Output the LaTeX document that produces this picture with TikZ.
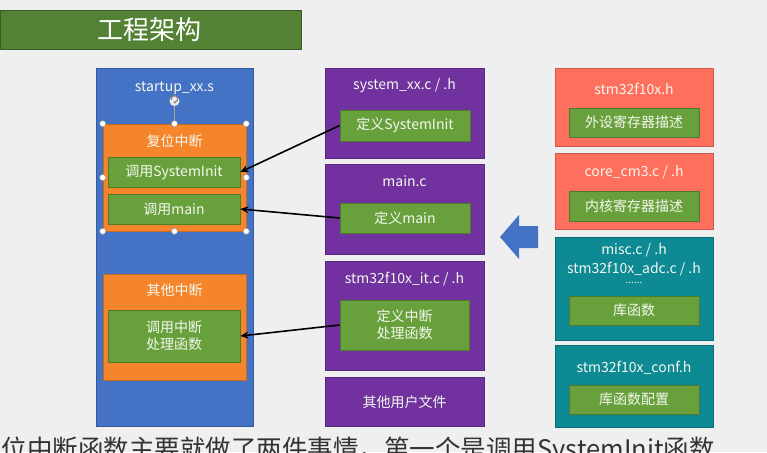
\documentclass[tikz,border=0pt]{standalone}
\usepackage{fontspec}
\setmainfont{Noto Sans CJK SC}
\usetikzlibrary{arrows.meta,shadows}
\definecolor{bgc}{HTML}{EFEFEF}
\definecolor{titleg}{HTML}{548235}
\definecolor{blu}{HTML}{4472C4}
\definecolor{org}{HTML}{F4852B}
\definecolor{grn}{HTML}{68A03C}
\definecolor{grnb}{HTML}{4E7A2C}
\definecolor{pur}{HTML}{7132A0}
\definecolor{sal}{HTML}{FF6F5D}
\definecolor{tea}{HTML}{0E8A94}
\definecolor{txtw}{HTML}{F4F8EE}
\tikzset{
  panel/.style={draw=#1!80!black, line width=0.6pt, fill=#1, inner sep=0pt},
  gbox/.style={draw=grnb, line width=0.8pt, fill=grn, inner sep=0pt, text=txtw, font=\fontsize{14}{17}\selectfont, align=center},
  ttl/.style={text=txtw, font=\fontsize{14}{17}\selectfont, inner sep=0pt, align=center},
  conn/.style={draw=black, line width=1.6pt, -{Stealth[length=8pt,width=7pt]}},
  handle/.style={circle, draw=gray!70, fill=white, line width=0.5pt, minimum size=6pt, inner sep=0pt},
}
\begin{document}
\begin{tikzpicture}[x=1pt,y=-1pt]
\useasboundingbox (0,0) rectangle (767,452);
\clip (0,0) rectangle (767,452);
\fill[bgc] (0,0) rectangle (767,452);
% title
\node[fill=titleg, draw=titleg!70!black, drop shadow={shadow xshift=1pt,shadow yshift=-1pt,opacity=0.3}, minimum width=301pt, minimum height=39pt, inner sep=0pt, anchor=north west] (title) at (0,10) {};
\node[text=white, font=\fontsize{26}{30}\selectfont, inner sep=0pt] (titletext) at (149,30) {工程架构};
% left column
\node[panel=blu, minimum width=157pt, minimum height=358pt] (startup) at (174.5,247) {};
\node[ttl] (startupt) at (174.5,88) {startup\_xx.s};
\node[panel=org, minimum width=143pt, minimum height=107pt] (reset) at (174.5,177.5) {};
\node[ttl] (resett) at (174.5,141) {复位中断};
\node[gbox, minimum width=132pt, minimum height=30pt] (callsys) at (174,172) {调用SystemInit};
\node[gbox, minimum width=132pt, minimum height=30pt] (callmain) at (174,209) {调用main};
\node[panel=org, minimum width=143pt, minimum height=106pt] (other) at (174.5,327) {};
\node[ttl] (othert) at (174.5,290) {其他中断};
\node[gbox, minimum width=132pt, minimum height=52pt] (callirq) at (174,336) {调用中断\\处理函数};
% selection handles
\coordinate (rot) at (174.5,101);
\draw[gray!70, line width=0.6pt] (rot) -- (reset.north);
\node[circle, fill=white!85!gray, minimum size=10pt, inner sep=0pt] (roth) at (rot) {};
\draw[gray!90, line width=1.3pt, -{Stealth[length=2.5pt,width=3.5pt]}] ([shift={(-3,-1)}]rot) arc[start angle=200, end angle=-110, radius=3.2pt];
\foreach \a/\n in {north west/h1, north/h2, north east/h3, west/h4, east/h5, south west/h6, south/h7, south east/h8}
  \node[handle] (\n) at (reset.\a) {};
% middle column
\node[panel=pur, minimum width=159pt, minimum height=90pt] (sysxx) at (404.5,113) {};
\node[ttl] (sysxxt) at (404.5,86) {system\_xx.c / .h};
\node[gbox, minimum width=130pt, minimum height=31pt] (defsys) at (405,125.5) {定义SystemInit};
\node[panel=pur, minimum width=159pt, minimum height=90pt] (mainc) at (404.5,209) {};
\node[ttl] (mainct) at (404.5,181) {main.c};
\node[gbox, minimum width=130pt, minimum height=30pt] (defmain) at (405,218) {定义main};
\node[panel=pur, minimum width=159pt, minimum height=109pt] (itc) at (404.5,315.5) {};
\node[ttl] (itct) at (404.5,279) {stm32f10x\_it.c / .h};
\node[gbox, minimum width=129pt, minimum height=50pt] (defirq) at (404.5,325) {定义中断\\处理函数};
\node[panel=pur, minimum width=159pt, minimum height=49pt] (userf) at (404.5,401.5) {};
\node[ttl] (userft) at (404.5,402) {其他用户文件};
% right column
\node[panel=sal, minimum width=158pt, minimum height=78pt] (f10xh) at (634,107) {};
\node[ttl] (f10xht) at (634,89) {stm32f10x.h};
\node[gbox, minimum width=130pt, minimum height=29pt] (periph) at (634,122.5) {外设寄存器描述};
\node[panel=sal, minimum width=158pt, minimum height=76pt] (corecm) at (634,191) {};
\node[ttl] (corecmt) at (634,172) {core\_cm3.c / .h};
\node[gbox, minimum width=130pt, minimum height=30pt] (corereg) at (634,206) {内核寄存器描述};
\node[panel=tea, minimum width=158pt, minimum height=103pt] (misc) at (634,288.5) {};
\node[ttl, font=\fontsize{14}{19}\selectfont] (misct) at (634,260) {misc.c / .h\\stm32f10x\_adc.c / .h};
\node[ttl, font=\fontsize{10}{10}\selectfont] (dots) at (634,283) {......};
\node[gbox, minimum width=130pt, minimum height=29pt] (lib) at (634,310.5) {库函数};
\node[panel=tea, minimum width=158pt, minimum height=82pt] (conf) at (634,386) {};
\node[ttl] (conft) at (634,368) {stm32f10x\_conf.h};
\node[gbox, minimum width=130pt, minimum height=29pt] (libconf) at (634,399.5) {库函数配置};
% big arrow
\fill[blu] (500,237) -- (519,215) -- (519,226) -- (538,226) -- (538,248) -- (519,248) -- (519,259) -- cycle;
% connectors
\draw[conn] (defsys.west) -- (callsys.east);
\draw[conn] (defmain.west) -- (callmain.east);
\draw[conn] (defirq.west) -- (callirq.east);
% subtitle (cut off at the bottom, as in the reference)
\node[anchor=north east, inner sep=0pt, text=black!80, font=\fontsize{25.5}{30}\selectfont] (sub) at (715,437) {位中断函数主要就做了两件事情，第一个是调用SystemInit函数};
\end{tikzpicture}
\end{document}
